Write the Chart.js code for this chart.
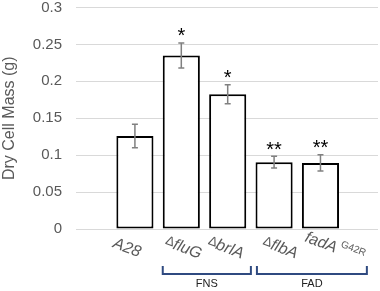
<!DOCTYPE html>
<html lang="en">
<head>
<meta charset="UTF-8">
<script src="https://cdn.jsdelivr.net/npm/chart.js@4.4.0/dist/chart.umd.min.js"></script>
<title>Dry Cell Mass</title>
<style>body{margin:0;background:#fff}</style>
</head>
<body>
<canvas id="mass-chart" width="380" height="291"></canvas>
<script>
// strains
var strains = ['A28', 'fluG', 'brlA', 'flbA', 'fadA'];
var hasDelta = [false, true, true, true, false];
var superscripts = ['', '', '', '', 'G42R'];
var masses = [0.126, 0.235, 0.1825, 0.0905, 0.0895];
var errors = [0.016, 0.017, 0.013, 0.008, 0.011];
var stars = ['', '*', '*', '**', '**'];
var groupNames = ['FNS', 'FAD'];
var groupFrom = [0.6, 2.63];
var groupTo = [2.5, 5.0];

var FONT = '"Liberation Sans", Arial, sans-serif';
var ctx = document.getElementById('mass-chart').getContext('2d');

// small sideways nudges so the slanted labels sit like the original
var labelShift = [-8, 2, -2, 6, 14];

var extras = {
  id: 'extras',
  afterDatasetsDraw: function(chart) {
    var c = chart.ctx, x = chart.scales.x, y = chart.scales.y;
    c.save();
    for (var i = 0; i < masses.length; i++) {
      var px = x.getPixelForValue(i);
      var top = y.getPixelForValue(masses[i] + errors[i]);
      var bot = y.getPixelForValue(masses[i] - errors[i]);
      // error bar
      c.strokeStyle = '#808080';
      c.lineWidth = 1.5;
      c.beginPath();
      c.moveTo(px, top); c.lineTo(px, bot);
      c.moveTo(px - 3, top); c.lineTo(px + 3, top);
      c.moveTo(px - 3, bot); c.lineTo(px + 3, bot);
      c.stroke();
      // significance
      if (stars[i]) {
        c.fillStyle = '#000';
        c.font = '20px ' + FONT;
        c.textAlign = 'center';
        c.textBaseline = 'alphabetic';
        c.fillText(stars[i], px, top - 0.5);
      }
      // rotated strain label
      c.save();
      c.translate(px + labelShift[i], y.bottom + 19);
      c.rotate(21 * Math.PI / 180);
      c.fillStyle = '#595959';
      c.textBaseline = 'middle';
      c.textAlign = 'left';
      var italic = 'italic 16px ' + FONT, small = '13px ' + FONT, sup = '10px ' + FONT;
      c.font = small; var wd = hasDelta[i] ? c.measureText('\u0394').width : 0;
      c.font = italic; var wn = c.measureText(strains[i]).width;
      c.font = sup; var ws = superscripts[i] ? c.measureText(superscripts[i]).width + 3 : 0;
      var sx = -(wd + wn + ws) / 2;
      if (hasDelta[i]) { c.font = small; c.fillText('\u0394', sx, -1); sx += wd; }
      c.font = italic; c.fillText(strains[i], sx, 0); sx += wn;
      if (ws) { c.font = sup; c.fillText(superscripts[i], sx + 3, -6); }
      c.restore();
    }
    // group brackets
    for (var g = 0; g < groupNames.length; g++) {
      var a = x.getPixelForValue(groupFrom[g]), b = x.getPixelForValue(groupTo[g]);
      c.strokeStyle = '#2f4a80';
      c.lineWidth = 2;
      c.beginPath();
      c.moveTo(a, 266); c.lineTo(a, 274); c.lineTo(b, 274); c.lineTo(b, 266);
      c.stroke();
      c.fillStyle = '#222';
      c.font = '11px ' + FONT;
      c.textAlign = 'center';
      c.textBaseline = 'middle';
      c.fillText(groupNames[g], (a + b) / 2, 284);
    }
    c.restore();
  }
};

var chart = new Chart(ctx, {
  type: 'bar',
  data: {
    datasets: [{
      data: masses.map(function(v, i) { return { x: i, y: v }; }),
      backgroundColor: '#fff',
      borderColor: '#000',
      borderWidth: 2,
      borderSkipped: false,
      barPercentage: 0.8,
      categoryPercentage: 1
    }]
  },
  options: {
    responsive: false,
    animation: false,
    layout: { padding: { top: 7.5, right: 2, bottom: 62, left: 0 } },
    plugins: { legend: { display: false }, tooltip: { enabled: false } },
    scales: {
      x: { type: 'linear', min: -1.27, max: 5.24, offset: false, display: false },
      y: {
        min: 0, max: 0.3,
        afterFit: function(s) { s.width = 76; s.paddingTop = 0; s.paddingBottom = 0; },
        ticks: {
          stepSize: 0.05,
          padding: 14,
          color: '#595959',
          font: { size: 15, family: FONT },
          callback: function(v) { return +v.toFixed(2); }
        },
        grid: { color: '#d9d9d9', lineWidth: 1, drawTicks: false },
        border: { display: false },
        title: {
          display: true,
          text: 'Dry Cell Mass (g)',
          color: '#595959',
          padding: 0,
          font: { size: 16, family: FONT }
        }
      }
    }
  },
  plugins: [extras]
});
</script>
</body>
</html>
